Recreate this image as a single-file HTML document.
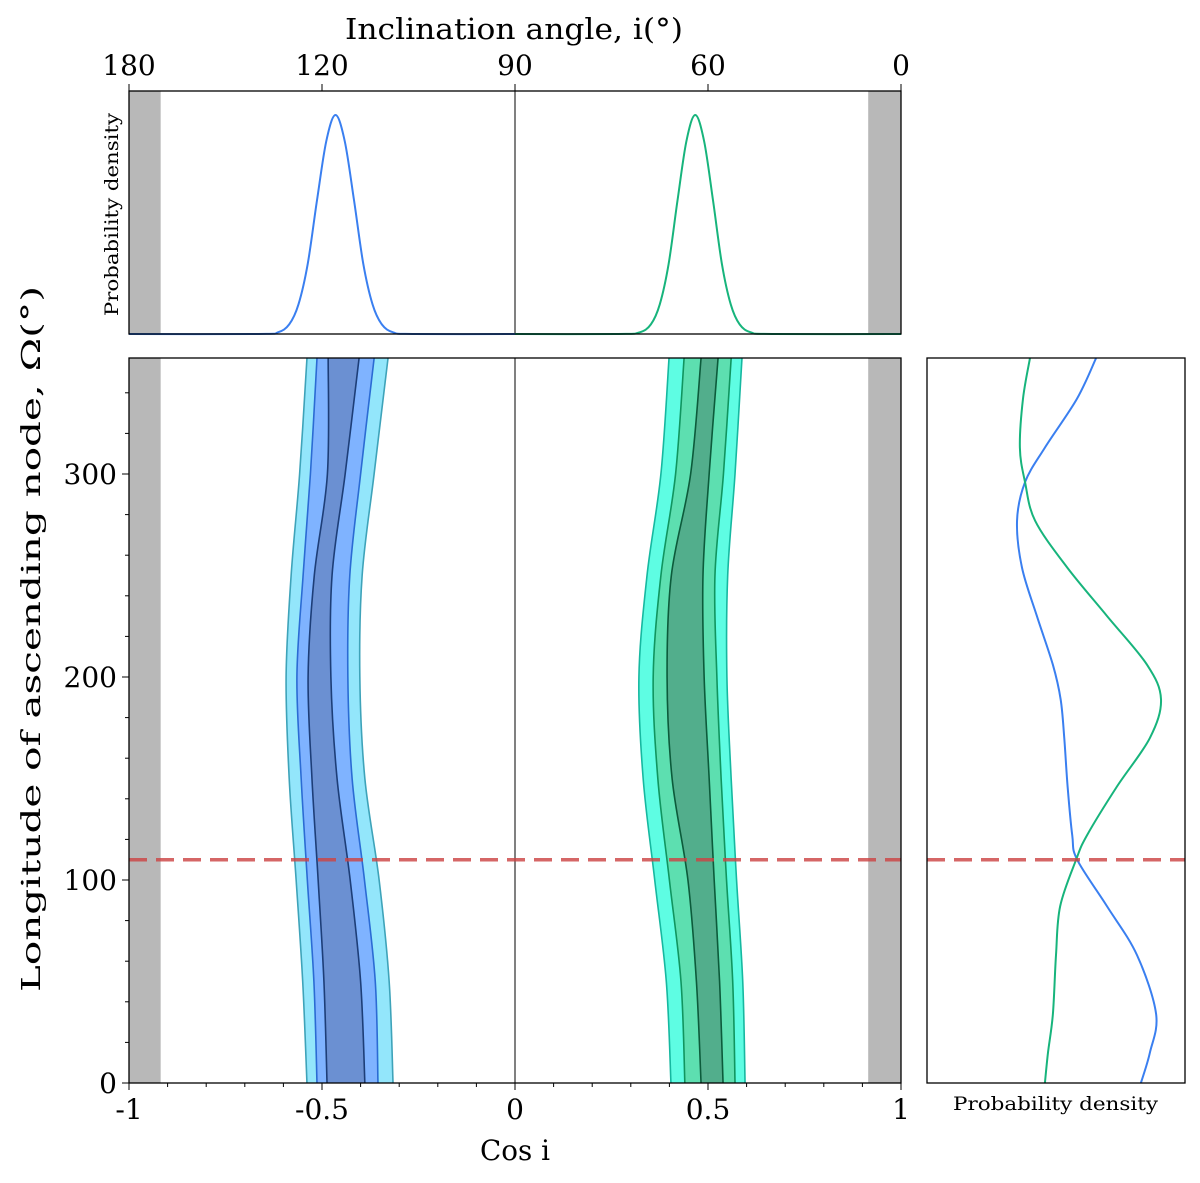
<!DOCTYPE html>
<html><head><meta charset="utf-8">
<style>
html,body{margin:0;padding:0;background:#fff;}
svg{display:block;font-family:"DejaVu Serif","Liberation Serif",serif;}
</style></head>
<body>
<svg id="chart" width="1200" height="1183" viewBox="0 0 1200 1183" xmlns="http://www.w3.org/2000/svg"></svg>
<script>
// ---- data ----
const omegaSamples = [0, 50, 100, 150, 200, 250, 300, 357];
const blueOuterL = [-0.539,-0.550,-0.567,-0.585,-0.593,-0.580,-0.558,-0.539];
const blueMidL   = [-0.513,-0.521,-0.538,-0.554,-0.565,-0.549,-0.530,-0.513];
const blueInnerL = [-0.487,-0.495,-0.510,-0.526,-0.536,-0.520,-0.486,-0.484];
const blueInnerR = [-0.389,-0.400,-0.427,-0.461,-0.477,-0.474,-0.440,-0.404];
const blueMidR   = [-0.355,-0.362,-0.390,-0.422,-0.433,-0.428,-0.400,-0.365];
const blueOuterR = [-0.316,-0.326,-0.352,-0.389,-0.402,-0.396,-0.365,-0.329];
const greenOuterL = [0.404,0.392,0.362,0.332,0.321,0.342,0.378,0.399];
const greenMidL   = [0.440,0.430,0.400,0.370,0.358,0.378,0.416,0.438];
const greenInnerL = [0.482,0.470,0.448,0.407,0.394,0.405,0.455,0.482];
const greenInnerR = [0.539,0.530,0.516,0.503,0.490,0.487,0.503,0.526];
const greenMidR   = [0.570,0.564,0.548,0.534,0.523,0.518,0.540,0.560];
const greenOuterR = [0.596,0.590,0.574,0.560,0.549,0.551,0.570,0.588];
const blueTopCos = [-1,-0.665,-0.615,-0.585,-0.561,-0.537,-0.513,-0.489,-0.465,-0.441,-0.417,-0.393,-0.369,-0.345,-0.315,-0.265,0];
const blueTopDen = [0,0,0.007,0.044,0.135,0.32,0.61,0.88,1,0.88,0.61,0.32,0.135,0.044,0.007,0,0];
const greenTopCos = [0,0.267,0.322,0.352,0.375,0.398,0.421,0.444,0.467,0.490,0.513,0.536,0.559,0.582,0.612,0.667,1];
const greenTopDen = [0,0,0.007,0.044,0.135,0.32,0.61,0.88,1,0.88,0.61,0.32,0.135,0.044,0.007,0,0];
const rightOmega = [357,337,313,296,277,254,230,206,189,170,146,122,110,87,63,34,15,0];
const blueRightDen = [0.655,0.581,0.457,0.380,0.349,0.368,0.426,0.488,0.518,0.532,0.545,0.563,0.582,0.698,0.814,0.888,0.864,0.829];
const greenRightDen = [0.399,0.372,0.360,0.380,0.419,0.543,0.698,0.853,0.907,0.864,0.736,0.620,0.578,0.516,0.500,0.488,0.469,0.457];
const xTicks = [-1,-0.5,0,0.5,1];
const xTickLabels = ["-1","-0.5","0","0.5","1"];
const topTickLabels = ["180","120","90","60","0"];
const yTicks = [0,100,200,300];
const refOmega = 110;
const grayBandLeft = [-1,-0.918];
const grayBandRight = [0.915,1];

const M = {l:129,r:901,t:358,b:1083};
const T = {t:91,b:334};
const R = {l:927,r:1185};
const X = c => M.l + (c+1)/2*(M.r-M.l);
const Y = o => M.b - o*2.03;
const YT = d => T.b - d*219;
const XR = d => R.l + d*258;
const svg = document.getElementById('chart');
const NS = 'http://www.w3.org/2000/svg';
function mk(tag, attrs, parent){const e=document.createElementNS(NS,tag);for(const k in attrs)e.setAttribute(k,attrs[k]);(parent||svg).appendChild(e);return e;}
function spline(pts){
  let d='M'+pts[0][0].toFixed(2)+','+pts[0][1].toFixed(2);
  for(let i=0;i<pts.length-1;i++){
    const p0=pts[Math.max(0,i-1)],p1=pts[i],p2=pts[i+1],p3=pts[Math.min(pts.length-1,i+2)];
    const c1=[p1[0]+(p2[0]-p0[0])/6,p1[1]+(p2[1]-p0[1])/6];
    const c2=[p2[0]-(p3[0]-p1[0])/6,p2[1]-(p3[1]-p1[1])/6];
    d+=' C'+c1[0].toFixed(2)+','+c1[1].toFixed(2)+' '+c2[0].toFixed(2)+','+c2[1].toFixed(2)+' '+p2[0].toFixed(2)+','+p2[1].toFixed(2);
  }
  return d;
}
function ptsOf(arr){return omegaSamples.map((o,i)=>[X(arr[i]),Y(o)]);}
function bandPath(L,Rr){
  const a=ptsOf(L), b=ptsOf(Rr).reverse();
  return spline(a)+' L'+spline(b).slice(1)+' Z';
}

const defs=mk('defs',{});
const cp=mk('clipPath',{id:'mainclip'},defs);
mk('rect',{x:M.l,y:M.t,width:M.r-M.l,height:M.b-M.t},cp);

const main=mk('g',{'clip-path':'url(#mainclip)'});


let g=mk('rect',{x:X(grayBandLeft[0]),y:M.t,width:X(grayBandLeft[1])-X(grayBandLeft[0]),height:M.b-M.t,fill:'#b8b8b8'},main);


g=mk('rect',{x:X(grayBandRight[0]),y:M.t,width:X(grayBandRight[1])-X(grayBandRight[0]),height:M.b-M.t,fill:'#b8b8b8'},main);



function drawContours(name, sets, fills, strokes){
  sets.forEach((s,i)=>{
    const p=mk('path',{d:bandPath(s[0],s[1]),fill:fills[i],stroke:'none'},main);
    
    
  });
  sets.forEach((s,i)=>{
    [s[0],s[1]].forEach(arr=>{
      const l=mk('path',{d:spline(ptsOf(arr)),fill:'none',stroke:strokes[i],'stroke-width':1.6},main);
      
      
    });
  });
}
drawContours('blue',[[blueOuterL,blueOuterR],[blueMidL,blueMidR],[blueInnerL,blueInnerR]],
  ['#93e6fb','#7fb3ff','#6b90d2'],['#3ea3b9','#2b6bd4','#1d3e78']);
drawContours('green',[[greenOuterL,greenOuterR],[greenMidL,greenMidR],[greenInnerL,greenInnerR]],
  ['#5efde3','#5ddfb0','#52ae8c'],['#16b8a0','#10955f','#0c5b3b']);
g=mk('line',{x1:X(0),x2:X(0),y1:M.t,y2:M.b,stroke:'#000','stroke-width':1},main);



g=mk('rect',{x:X(grayBandLeft[0]),y:T.t,width:X(grayBandLeft[1])-X(grayBandLeft[0]),height:T.b-T.t,fill:'#b8b8b8'});


g=mk('rect',{x:X(grayBandRight[0]),y:T.t,width:X(grayBandRight[1])-X(grayBandRight[0]),height:T.b-T.t,fill:'#b8b8b8'});


g=mk('line',{x1:X(0),x2:X(0),y1:T.t,y2:T.b,stroke:'#000','stroke-width':1});


g=mk('path',{d:spline(blueTopCos.map((c,i)=>[X(c),YT(blueTopDen[i])])),fill:'none',stroke:'#3a7ff0','stroke-width':2});


g=mk('path',{d:spline(greenTopCos.map((c,i)=>[X(c),YT(greenTopDen[i])])),fill:'none',stroke:'#17b47c','stroke-width':2});


g=mk('rect',{x:M.l,y:T.t,width:M.r-M.l,height:T.b-T.t,fill:'none',stroke:'#000','stroke-width':1.3});



g=mk('path',{d:spline(rightOmega.map((o,i)=>[XR(blueRightDen[i]),Y(o)])),fill:'none',stroke:'#3a7ff0','stroke-width':2});


g=mk('path',{d:spline(rightOmega.map((o,i)=>[XR(greenRightDen[i]),Y(o)])),fill:'none',stroke:'#17b47c','stroke-width':2});



g=mk('line',{x1:M.l,x2:M.r,y1:Y(refOmega),y2:Y(refOmega),stroke:'#cc4444','stroke-width':3.5,'stroke-dasharray':'18,9','stroke-opacity':0.82});


g=mk('line',{x1:R.l,x2:R.r,y1:Y(refOmega),y2:Y(refOmega),stroke:'#cc4444','stroke-width':3.5,'stroke-dasharray':'18,9','stroke-opacity':0.82});



g=mk('rect',{x:R.l,y:M.t,width:R.r-R.l,height:M.b-M.t,fill:'none',stroke:'#000','stroke-width':1.3});


g=mk('rect',{x:M.l,y:M.t,width:M.r-M.l,height:M.b-M.t,fill:'none',stroke:'#000','stroke-width':1.3});



for(let v=-1;v<=1.0001;v+=0.1){
  const major=xTicks.some(t=>Math.abs(t-v)<1e-6);
  mk('line',{x1:X(v),x2:X(v),y1:M.b,y2:M.b+(major?7:4),stroke:'#000','stroke-width':1});
}
xTicks.forEach((v,i)=>{
  const t=mk('text',{x:X(v),y:M.b+36,'text-anchor':'middle','font-size':28,fill:'#000'});
  t.textContent=xTickLabels[i];
  
  
  mk('line',{x1:X(v),x2:X(v),y1:T.t,y2:T.t-7,stroke:'#000','stroke-width':1});
  const u=mk('text',{x:X(v),y:T.t-16,'text-anchor':'middle','font-size':28,fill:'#000'});
  u.textContent=topTickLabels[i];
  
  
});
for(let o=0;o<=357;o+=20){
  const major=yTicks.includes(o);
  mk('line',{x1:M.l,x2:M.l-(major?7:4),y1:Y(o),y2:Y(o),stroke:'#000','stroke-width':1});
}
yTicks.forEach(o=>{
  const t=mk('text',{x:M.l-12,y:Y(o)+10,'text-anchor':'end','font-size':28,fill:'#000'});
  t.textContent=String(o);
  
  
});

let t=mk('text',{x:480,y:1160,'font-size':28,fill:'#000',textLength:70,lengthAdjust:'spacingAndGlyphs'});
t.textContent='Cos i';


t=mk('text',{x:345,y:39,'font-size':29,fill:'#000',textLength:338,lengthAdjust:'spacingAndGlyphs'});
t.textContent='Inclination angle, i(°)';


t=mk('text',{x:0,y:0,'font-size':26,fill:'#000',textLength:706,lengthAdjust:'spacingAndGlyphs',transform:'translate(40,992) rotate(-90)'});
t.textContent='Longitude of ascending node, Ω(°)';


t=mk('text',{x:0,y:0,'font-size':19,fill:'#000',textLength:203,lengthAdjust:'spacingAndGlyphs',transform:'translate(118,316) rotate(-90)'});
t.textContent='Probability density';


t=mk('text',{x:953,y:1110,'font-size':19,fill:'#000',textLength:205,lengthAdjust:'spacingAndGlyphs'});
t.textContent='Probability density';


</script>
</body></html>
